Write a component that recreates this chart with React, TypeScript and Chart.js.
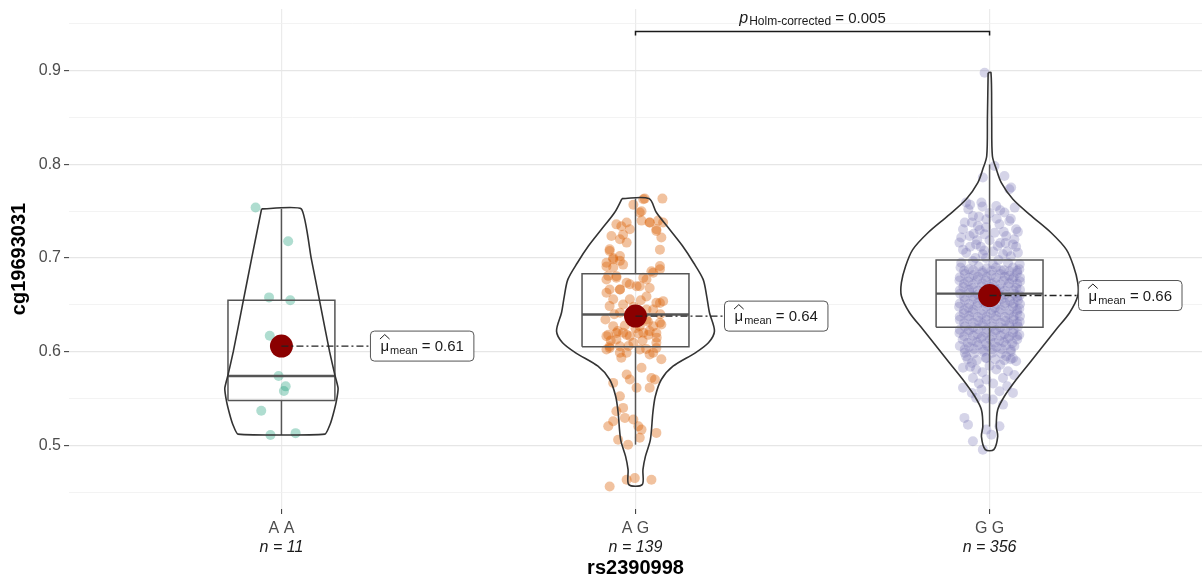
import React, { useEffect, useRef } from 'react';
import { Chart, registerables } from 'chart.js';

Chart.register(...registerables);

// ---------- data ----------
const categories = ['A A', 'A G', 'G G'];
const counts = [11, 139, 356];
const means = [0.606, 0.638, 0.66];
const meanLabels = ['0.61', '0.64', '0.66'];
const q1 = [0.548, 0.6052, 0.6262];
const medians = [0.574, 0.6398, 0.662];
const q3 = [0.655, 0.6833, 0.6979];
const whiskerLow = [0.511, 0.5007, 0.52];
const whiskerHigh = [0.7525, 0.7635, 0.8];
const pValueLabel = '0.005';
const yTickValues = [0.45, 0.5, 0.55, 0.6, 0.65, 0.7, 0.75, 0.8, 0.85, 0.9, 0.95];
const xTitle = 'rs2390998';
const yTitle = 'cg19693031';

// violin profiles: [value, half-width in category units]
const violinAA: [number, number][] = [
  [0.7525, 0.056], [0.7, 0.084], [0.65, 0.11], [0.6, 0.136], [0.575, 0.151], [0.561, 0.16],
  [0.547, 0.155], [0.533, 0.146], [0.522, 0.137], [0.512, 0.123],
];
const violinAG: [number, number][] = [
  [0.7635, 0.038], [0.7486, 0.059], [0.7307, 0.096], [0.7128, 0.133], [0.695, 0.164], [0.6772, 0.191],
  [0.6594, 0.201], [0.6416, 0.209], [0.622, 0.223], [0.6095, 0.206], [0.5988, 0.169], [0.5845, 0.106],
  [0.5703, 0.073], [0.5524, 0.056], [0.5347, 0.049], [0.506, 0.042], [0.4882, 0.028], [0.474, 0.021],
  [0.458, 0.019],
];
const violinGG: [number, number][] = [
  [0.898, 0.004], [0.85, 0.006], [0.809, 0.008], [0.795, 0.019], [0.7806, 0.033], [0.7628, 0.066],
  [0.745, 0.118], [0.727, 0.174], [0.709, 0.217], [0.6915, 0.237], [0.6737, 0.249], [0.6594, 0.249],
  [0.6416, 0.226], [0.6237, 0.188], [0.606, 0.151], [0.588, 0.113], [0.57, 0.075], [0.5524, 0.042],
  [0.538, 0.023], [0.52, 0.019], [0.5096, 0.023], [0.4954, 0.012],
];

// jittered observations: [jitter (thousandths of a category), value]
const pointsAA: [number, number][] = [
  [-73, 0.754], [19, 0.718], [-35, 0.658], [25, 0.655], [-33, 0.617], [-8, 0.574], [12, 0.563],
  [7, 0.558], [-57, 0.537], [-31, 0.511], [40, 0.513],
];
const pointsAG: [number, number][] = [
  [26, 0.7635], [76, 0.7635], [-6, 0.757], [17, 0.75], [-54, 0.736], [-40, 0.734], [-25, 0.738],
  [-68, 0.7235], [-35, 0.725], [17, 0.74], [40, 0.738], [64, 0.74], [78, 0.738], [59, 0.729],
  [73, 0.722], [69, 0.709], [-25, 0.7165], [-73, 0.7075], [-63, 0.7], [-44, 0.697], [-82, 0.691],
  [-63, 0.69], [-35, 0.693], [-77, 0.681], [-54, 0.679], [45, 0.686], [69, 0.688], [22, 0.679],
  [-16, 0.672], [12, 0.67], [-44, 0.6665], [-82, 0.663], [40, 0.668], [-63, 0.656], [-16, 0.656],
  [31, 0.659], [69, 0.652], [-35, 0.6505], [50, 0.645], [78, 0.654], [73, 0.629],
  [-77, 0.618], [-54, 0.62], [-25, 0.618], [8, 0.6195], [36, 0.618], [59, 0.62], [-73, 0.604],
  [-44, 0.599], [-40, 0.5935], [40, 0.597], [59, 0.604], [73, 0.592], [-63, 0.5667], [-25, 0.5756],
  [-16, 0.5703], [17, 0.5828], [3, 0.5614], [45, 0.572], [55, 0.5703], [40, 0.5614], [-44, 0.5524],
  [-35, 0.54], [-54, 0.5364], [-63, 0.5257], [-77, 0.5203], [-30, 0.5293], [-6, 0.5275], [8, 0.5203],
  [17, 0.5168], [-49, 0.506], [-21, 0.5007], [12, 0.508], [59, 0.5133], [-25, 0.4633], [-2, 0.465],
  [45, 0.4633], [-73, 0.456],
  [-73, 0.6487], [-44, 0.6416], [-85, 0.6344], [-63, 0.6273], [-35, 0.6202], [-82, 0.6166],
  [-54, 0.613], [-16, 0.6166], [22, 0.6202], [40, 0.622], [50, 0.6273], [69, 0.631], [31, 0.6344],
  [12, 0.6273], [-6, 0.6095], [-44, 0.6059], [-73, 0.6059], [-82, 0.6024], [-25, 0.5988], [12, 0.6024],
  [50, 0.5988], [59, 0.6095], [31, 0.6451], [59, 0.6523], [-73, 0.6665], [-44, 0.6665], [-25, 0.6737],
  [3, 0.67], [-82, 0.6772], [-54, 0.6807], [31, 0.6772], [50, 0.6844], [69, 0.6915], [-82, 0.695],
  [-63, 0.6986], [-44, 0.7021], [-73, 0.7093], [-44, 0.72], [-16, 0.7307], [40, 0.7379], [59, 0.7307],
  [12, 0.7486], [22, 0.7628],
  [-10, 0.635], [5, 0.641], [20, 0.612], [-30, 0.628], [-60, 0.64], [60, 0.615], [-20, 0.606],
  [30, 0.603], [-50, 0.622], [0, 0.625], [35, 0.632], [-5, 0.648], [15, 0.655], [-70, 0.612], [70, 0.64],
];
const pointsGG: [number, number][] = [
  [-14, 0.898], [14, 0.7984], [42, 0.7877], [-19, 0.786], [56, 0.7735], [61, 0.7753], [-66, 0.7593],
  [-23, 0.7593], [19, 0.7556], [71, 0.7539], [42, 0.7486], [-47, 0.745], [-9, 0.7414], [-75, 0.7307],
  [-33, 0.7342], [28, 0.736], [56, 0.7396], [75, 0.7307], [-56, 0.7235], [-14, 0.7253], [14, 0.7271],
  [47, 0.7235], [-85, 0.7165], [-38, 0.7146], [23, 0.7128], [66, 0.7146], [-66, 0.7058], [-19, 0.704],
  [38, 0.704], [80, 0.7058], [-80, 0.695], [-47, 0.6968], [9, 0.6933], [52, 0.695], [85, 0.6933],
  [-60, 0.752], [0, 0.748], [-30, 0.744], [60, 0.742], [-70, 0.738], [-10, 0.733], [40, 0.728],
  [-45, 0.726], [70, 0.72], [0, 0.719], [-25, 0.712], [45, 0.716], [-75, 0.709], [10, 0.707],
  [60, 0.702], [-40, 0.7], [25, 0.698], [-10, 0.7],
  [-55, 0.757], [-20, 0.755], [30, 0.751], [-80, 0.722], [-35, 0.719], [30, 0.716], [75, 0.712],
  [-55, 0.712], [-15, 0.708], [50, 0.707], [-28, 0.73], [20, 0.742], [-50, 0.738], [80, 0.728],
  [-82, 0.69], [-58, 0.688], [-31, 0.691], [-8, 0.689], [18, 0.69], [41, 0.687], [66, 0.69], [84, 0.688],
  [-72, 0.6865], [-46, 0.687], [-20, 0.686], [6, 0.6865], [31, 0.687], [56, 0.686], [78, 0.6865],
  [-70, 0.683], [-45, 0.682], [-20, 0.684], [5, 0.682], [30, 0.683], [55, 0.681], [78, 0.684],
  [-84, 0.6795], [-58, 0.679], [-33, 0.68], [-8, 0.6795], [18, 0.679], [43, 0.68], [68, 0.6795], [86, 0.679],
  [-85, 0.676], [-60, 0.675], [-35, 0.677], [-10, 0.676], [15, 0.674], [40, 0.676], [65, 0.677], [86, 0.675],
  [-72, 0.6725], [-46, 0.672], [-20, 0.673], [6, 0.6725], [31, 0.672], [56, 0.673], [78, 0.6725],
  [-74, 0.669], [-48, 0.668], [-22, 0.67], [3, 0.669], [28, 0.667], [52, 0.67], [76, 0.668],
  [-84, 0.6655], [-58, 0.666], [-33, 0.665], [-8, 0.6655], [18, 0.666], [43, 0.665], [68, 0.6655], [86, 0.666],
  [-83, 0.662], [-57, 0.663], [-33, 0.661], [-6, 0.662], [20, 0.664], [44, 0.661], [70, 0.662], [85, 0.66],
  [-72, 0.6585], [-46, 0.659], [-20, 0.658], [6, 0.6585], [31, 0.659], [56, 0.658], [78, 0.6585],
  [-70, 0.655], [-45, 0.656], [-18, 0.654], [8, 0.655], [33, 0.656], [58, 0.654], [80, 0.655],
  [-84, 0.6515], [-58, 0.651], [-33, 0.652], [-8, 0.6515], [18, 0.651], [43, 0.652], [68, 0.6515], [86, 0.651],
  [-86, 0.648], [-60, 0.647], [-35, 0.649], [-10, 0.648], [15, 0.647], [42, 0.649], [66, 0.648], [84, 0.646],
  [-72, 0.6445], [-46, 0.645], [-20, 0.644], [6, 0.6445], [31, 0.645], [56, 0.644], [78, 0.6445],
  [-73, 0.641], [-47, 0.642], [-22, 0.64], [4, 0.641], [28, 0.642], [54, 0.64], [78, 0.641],
  [-84, 0.6375], [-58, 0.638], [-33, 0.637], [-8, 0.6375], [18, 0.638], [43, 0.637], [68, 0.6375], [86, 0.638],
  [-84, 0.634], [-58, 0.635], [-32, 0.633], [-8, 0.634], [18, 0.635], [44, 0.633], [68, 0.634], [85, 0.632],
  [-72, 0.6305], [-46, 0.631], [-20, 0.63], [6, 0.6305], [31, 0.631], [56, 0.63], [78, 0.6305],
  [-70, 0.627], [-46, 0.626], [-20, 0.628], [6, 0.627], [30, 0.626], [56, 0.628], [80, 0.627],
  [-84, 0.6235], [-58, 0.623], [-33, 0.624], [-8, 0.6235], [18, 0.623], [43, 0.624], [68, 0.6235],
  [-85, 0.62], [-60, 0.621], [-34, 0.619], [-9, 0.62], [16, 0.621], [42, 0.619], [66, 0.62], [84, 0.618],
  [-72, 0.6165], [-46, 0.617], [-20, 0.616], [6, 0.6165], [31, 0.617], [56, 0.616], [78, 0.6165],
  [-76, 0.613], [-50, 0.612], [-24, 0.614], [2, 0.613], [27, 0.612], [52, 0.614], [78, 0.613],
  [-62, 0.6095], [-36, 0.61], [-10, 0.609], [14, 0.6095], [40, 0.61], [64, 0.609],
  [-84, 0.606], [-58, 0.605], [-32, 0.607], [-6, 0.606], [20, 0.605], [46, 0.607], [70, 0.606],
  [-70, 0.6025], [-44, 0.603], [-18, 0.602], [8, 0.6025], [34, 0.603], [60, 0.602],
  [-70, 0.599], [-44, 0.598], [-18, 0.6], [8, 0.599], [34, 0.598], [60, 0.6],
  [-62, 0.592], [-36, 0.591], [-10, 0.593], [16, 0.592], [42, 0.591], [66, 0.593],
  [-66, 0.5952], [-9, 0.5935], [47, 0.5952], [75, 0.5898], [-75, 0.5828], [-38, 0.581], [19, 0.581],
  [52, 0.5791], [-47, 0.572], [-9, 0.5703], [38, 0.572], [-75, 0.5614], [-23, 0.5596], [28, 0.5578],
  [66, 0.556], [-38, 0.5507], [9, 0.5489], [38, 0.5435], [-71, 0.5293], [-61, 0.5221], [-9, 0.5168],
  [5, 0.5114], [-19, 0.4954], [-47, 0.5043], [28, 0.5203],
  [-50, 0.588], [0, 0.585], [60, 0.592], [-20, 0.578], [70, 0.575],
  [-55, 0.584], [30, 0.586], [-30, 0.566], [10, 0.566], [50, 0.563], [-10, 0.55], [-50, 0.556],
];

const groupPoints = [pointsAA, pointsAG, pointsGG];
const violins = [violinAA, violinAG, violinGG];
const pointColors = ['rgba(27,158,119,0.35)', 'rgba(217,95,2,0.38)', 'rgba(117,112,179,0.3)'];

const FONT = '"Liberation Sans", Arial, Helvetica, sans-serif';
const BOX_HALF = 0.151;
const JITTER_UNIT = 1000;

const isMajor = (v: number) => Math.abs(v * 10 - Math.round(v * 10)) < 1e-6 && v > 0.46 && v < 0.94;

function violinPolygon(center: number, profile: [number, number][]) {
  const left = profile.map(([v, w]) => ({ x: center - w, y: v }));
  const right = profile.slice().reverse().map(([v, w]) => ({ x: center + w, y: v }));
  return [...left, ...right, left[0]];
}

const annotationPlugin = {
  id: 'annotations',
  afterDatasetsDraw(chart: any) {
    const { ctx, scales } = chart;
    const xs = scales.x;
    const ys = scales.y;
    ctx.save();
    // mean labels
    means.forEach((m, i) => {
      const cx = xs.getPixelForValue(i + 1);
      const cy = ys.getPixelForValue(m);
      const lx = cx + 89;
      ctx.font = `15px ${FONT}`;
      const wMu = ctx.measureText('\u03bc').width;
      const rest = ' = ' + meanLabels[i];
      const wRest = ctx.measureText(rest).width;
      ctx.font = `11px ${FONT}`;
      const wSub = ctx.measureText('mean').width;
      const padX = 10;
      const w = padX * 2 + wMu + 1 + wSub + wRest;
      const h = 30;
      ctx.strokeStyle = '#222';
      ctx.lineWidth = 1.4;
      ctx.setLineDash([7, 3, 2, 3]);
      ctx.beginPath();
      ctx.moveTo(cx, cy);
      ctx.lineTo(lx, cy);
      ctx.stroke();
      ctx.setLineDash([]);
      const top = cy - h / 2;
      ctx.beginPath();
      ctx.roundRect(lx, top, w, h, 4);
      ctx.fillStyle = '#fff';
      ctx.fill();
      ctx.strokeStyle = '#555';
      ctx.lineWidth = 1;
      ctx.stroke();
      const base = cy + 5;
      let tx = lx + padX;
      ctx.fillStyle = '#1a1a1a';
      ctx.textBaseline = 'alphabetic';
      ctx.textAlign = 'left';
      ctx.font = `15px ${FONT}`;
      ctx.fillText('\u03bc', tx, base);
      ctx.strokeStyle = '#1a1a1a';
      ctx.lineWidth = 1;
      ctx.beginPath();
      ctx.moveTo(tx - 0.5, base - 12);
      ctx.lineTo(tx + wMu / 2, base - 16.5);
      ctx.lineTo(tx + wMu + 0.5, base - 12);
      ctx.stroke();
      tx += wMu + 1;
      ctx.font = `11px ${FONT}`;
      ctx.fillText('mean', tx, base + 3);
      tx += wSub;
      ctx.font = `15px ${FONT}`;
      ctx.fillText(rest, tx, base);
    });
    // significance bracket
    const bx1 = xs.getPixelForValue(2);
    const bx2 = xs.getPixelForValue(3);
    const by = ys.getPixelForValue(0.942);
    ctx.strokeStyle = '#1a1a1a';
    ctx.lineWidth = 1.5;
    ctx.beginPath();
    ctx.moveTo(bx1, by + 4);
    ctx.lineTo(bx1, by);
    ctx.lineTo(bx2, by);
    ctx.lineTo(bx2, by + 4);
    ctx.stroke();
    ctx.font = `italic 16px ${FONT}`;
    const wp = ctx.measureText('p').width;
    ctx.font = `12px ${FONT}`;
    const wsub = ctx.measureText('Holm-corrected').width;
    ctx.font = `15px ${FONT}`;
    const prest = ' = ' + pValueLabel;
    const wpr = ctx.measureText(prest).width;
    const total = wp + 1 + wsub + wpr;
    let px = (bx1 + bx2) / 2 - total / 2;
    const pb = by - 8;
    ctx.fillStyle = '#1a1a1a';
    ctx.textAlign = 'left';
    ctx.font = `italic 16px ${FONT}`;
    ctx.fillText('p', px, pb);
    px += wp + 1;
    ctx.font = `12px ${FONT}`;
    ctx.fillText('Holm-corrected', px, pb + 2);
    px += wsub;
    ctx.font = `15px ${FONT}`;
    ctx.fillText(prest, px, pb);
    ctx.restore();
  },
  afterDraw(chart: any) {
    const { ctx, scales, chartArea } = chart;
    const xs = scales.x;
    ctx.save();
    ctx.textAlign = 'center';
    ctx.textBaseline = 'alphabetic';
    categories.forEach((c, i) => {
      const x = xs.getPixelForValue(i + 1);
      ctx.fillStyle = '#4d4d4d';
      ctx.font = `16px ${FONT}`;
      ctx.fillText(c, x, 533);
      ctx.fillStyle = '#1a1a1a';
      ctx.font = `italic 16px ${FONT}`;
      ctx.fillText('n = ' + counts[i], x, 552);
    });
    ctx.fillStyle = '#000';
    ctx.font = `bold 20px ${FONT}`;
    ctx.fillText(xTitle, xs.getPixelForValue(2), 574);
    ctx.translate(25, (chartArea.top + chartArea.bottom) / 2);
    ctx.rotate(-Math.PI / 2);
    ctx.fillText(yTitle, 0, 0);
    ctx.restore();
  },
};

export default function App() {
  const ref = useRef<HTMLCanvasElement | null>(null);
  useEffect(() => {
    document.body.style.margin = '0';
    const canvas = ref.current;
    if (!canvas) return;
    const datasets: any[] = [];
    groupPoints.forEach((pts, i) => {
      datasets.push({
        type: 'scatter',
        data: pts.map(([dx, v]) => ({ x: i + 1 + dx / JITTER_UNIT, y: v })),
        pointRadius: 5,
        pointBorderWidth: 0,
        pointBackgroundColor: pointColors[i],
        order: 5,
      });
    });
    categories.forEach((_, i) => {
      const c = i + 1;
      const boxStyle = {
        type: 'scatter',
        showLine: true,
        pointRadius: 0,
        borderColor: '#555',
        borderWidth: 1.5,
        fill: false,
        tension: 0,
        order: 3,
      };
      datasets.push({
        ...boxStyle,
        data: [
          { x: c - BOX_HALF, y: q1[i] }, { x: c + BOX_HALF, y: q1[i] }, { x: c + BOX_HALF, y: q3[i] },
          { x: c - BOX_HALF, y: q3[i] }, { x: c - BOX_HALF, y: q1[i] },
        ],
      });
      datasets.push({ ...boxStyle, borderWidth: 2.4, data: [{ x: c - BOX_HALF, y: medians[i] }, { x: c + BOX_HALF, y: medians[i] }] });
      datasets.push({ ...boxStyle, data: [{ x: c, y: whiskerLow[i] }, { x: c, y: q1[i] }] });
      datasets.push({ ...boxStyle, data: [{ x: c, y: q3[i] }, { x: c, y: whiskerHigh[i] }] });
      datasets.push({
        type: 'scatter',
        showLine: true,
        data: violinPolygon(c, violins[i]),
        pointRadius: 0,
        borderColor: '#333',
        borderWidth: 1.6,
        fill: false,
        tension: i === 0 ? 0.15 : 0.3,
        order: 2,
      });
    });
    datasets.push({
      type: 'scatter',
      data: means.map((m, i) => ({ x: i + 1, y: m })),
      pointRadius: 11.5,
      pointBorderWidth: 0,
      pointBackgroundColor: '#8b0000',
      order: 0,
    });

    const chart = new Chart(canvas, {
      type: 'scatter',
      data: { datasets },
      options: {
        animation: false,
        responsive: false,
        events: [],
        layout: { autoPadding: false, padding: { top: 9, left: 0, right: 0, bottom: 0 } },
        plugins: { legend: { display: false }, tooltip: { enabled: false } },
        scales: {
          x: {
            type: 'linear',
            min: 0.4,
            max: 3.6,
            afterBuildTicks: (scale: any) => {
              scale.ticks = [1, 2, 3].map((v) => ({ value: v }));
            },
            afterFit: (scale: any) => {
              scale.height = 71;
              scale.paddingLeft = 0;
              scale.paddingRight = 0;
            },
            ticks: { callback: () => '', autoSkip: false, maxRotation: 0, padding: 0 },
            grid: { color: '#ebebeb', lineWidth: 1.2, tickLength: 5, tickColor: '#333', tickWidth: 1 },
            border: { display: false },
          },
          y: {
            type: 'linear',
            min: 0.432,
            max: 0.966,
            afterBuildTicks: (scale: any) => {
              scale.ticks = yTickValues.map((v) => ({ value: v }));
            },
            afterFit: (scale: any) => {
              scale.width = 69;
              scale.paddingTop = 0;
              scale.paddingBottom = 0;
            },
            ticks: {
              callback: (v: any) => (isMajor(Number(v)) ? Number(v).toFixed(1) : ''),
              font: { family: FONT, size: 16 },
              color: '#4d4d4d',
              padding: 3,
              autoSkip: false,
            },
            grid: {
              color: (ctx: any) => (ctx.tick && isMajor(ctx.tick.value) ? '#e6e6e6' : '#f0f0f0'),
              lineWidth: (ctx: any) => (ctx.tick && isMajor(ctx.tick.value) ? 1.3 : 0.8),
              tickLength: 5,
              tickColor: (ctx: any) => (ctx.tick && isMajor(ctx.tick.value) ? '#333' : 'rgba(0,0,0,0)'),
              tickWidth: 1,
            },
            border: { display: false },
          },
        },
      },
      plugins: [annotationPlugin],
    } as any);
    return () => chart.destroy();
  }, []);
  return (
    <div style={{ width: 1202, height: 580, background: '#fff' }}>
      <canvas ref={ref} width={1202} height={580} />
    </div>
  );
}
